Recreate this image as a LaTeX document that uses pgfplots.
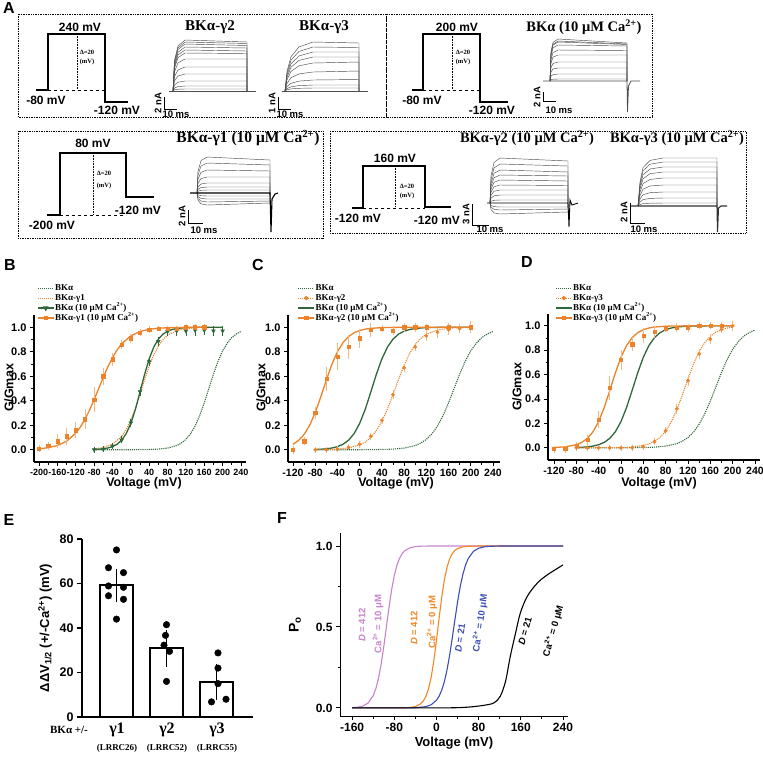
\documentclass[border=0pt]{standalone}
\usepackage{fontspec}
\setmainfont{Liberation Sans}
\newfontfamily\serif{Liberation Serif}
\usepackage{pgfplots}
\pgfplotsset{compat=1.18}
\newcommand{\fs}[1]{\fontsize{#1}{#1}\selectfont}
\definecolor{org}{RGB}{236,131,43}
\definecolor{lorg}{RGB}{244,185,125}
\definecolor{grn}{RGB}{46,104,58}
\definecolor{pnk}{RGB}{200,130,200}
\definecolor{forg}{RGB}{240,135,35}
\definecolor{fblu}{RGB}{60,78,180}
\tikzset{tr/.style={line width=0.45pt, black!70}, proto/.style={line width=1.3pt, black}, sb/.style={line width=1pt, black}}
\pgfplotsset{
 gv/.style={scale only axis, axis x line*=bottom, axis y line*=left,
  axis line style={-, line width=1.2pt}, tick style={black, line width=0.9pt},
  major tick length=4pt, minor tick length=2.5pt, tick align=outside,
  minor x tick num=1, minor y tick num=1, ymin=-0.1, ymax=1.1, ytick={0,0.2,0.4,0.6,0.8,1.0},
  yticklabel style={font=\bfseries\fs{11}, /pgf/number format/fixed, /pgf/number format/precision=1, /pgf/number format/fixed zerofill},
  xticklabel style={font=\bfseries\fs{10.5}},
  /pgf/number format/assume math mode=true,
  clip=false, height=147pt, width=212pt,
  legend style={draw=none, fill=none, font=\serif\bfseries\fs{9}, anchor=north west, inner sep=0pt, row sep=0.3pt,
    nodes={inner sep=0.8pt, text height=6.5pt, text depth=1.6pt}},
  legend cell align=left,
  legend image code/.code={\draw[mark repeat=2,mark phase=2,#1] plot coordinates {(0pt,0pt) (8pt,0pt) (16pt,0pt)};}},
 ebo/.style={error bars/.cd, y dir=both, y explicit, error bar style={lorg, line width=0.7pt, solid}, error mark options={lorg, line width=0.7pt, mark size=2.3pt, solid}},
 ebg/.style={error bars/.cd, y dir=both, y explicit, error bar style={grn, line width=0.7pt, solid}, error mark options={grn, line width=0.7pt, mark size=2.3pt, solid}},
}
\begin{document}
\begin{tikzpicture}[x=1pt,y=-1pt]
\path[use as bounding box] (0,0) rectangle (763,756);
% ---------------- Panel A ----------------
\draw[densely dotted, line width=0.7pt] (18,14) rectangle (386,117);
\draw[densely dotted, line width=0.7pt] (386,14) rectangle (652,117);
\draw[densely dotted, line width=0.7pt] (18,131) rectangle (323,238);
\draw[densely dotted, line width=0.7pt] (330,131) rectangle (746,233);
\begin{axis}[at={(0pt,0pt)}, anchor=north west, scale only axis, width=763pt, height=756pt,
  xmin=0, xmax=763, ymin=0, ymax=756, y dir=reverse, hide axis, clip=false]
% protocols
\addplot[proto] coordinates {(36,90) (48,90) (48,34) (105,34) (105,102) (128,102)};
\addplot[line width=0.6pt, dashed] coordinates {(48,90) (105,90)};
\addplot[line width=0.6pt, densely dotted] coordinates {(77,34) (77,90)};
\addplot[proto] coordinates {(412,90) (423,90) (423,34) (480,34) (480,102) (508,102)};
\addplot[line width=0.6pt, dashed] coordinates {(423,90) (480,90)};
\addplot[line width=0.6pt, densely dotted] coordinates {(452,34) (452,90)};
\addplot[proto] coordinates {(47,215) (60,215) (60,153) (126,153) (126,197) (154,197)};
\addplot[line width=0.6pt, dashed] coordinates {(60,215) (126,215)};
\addplot[line width=0.6pt, densely dotted] coordinates {(93,153) (93,215)};
\addplot[proto] coordinates {(352,208) (363,208) (363,166) (425,166) (425,207) (451,207)};
\addplot[line width=0.6pt, dashed] coordinates {(363,208) (425,208)};
\addplot[line width=0.6pt, densely dotted] coordinates {(395,166) (395,208)};
% traces BKa-g2
\addplot[tr] coordinates {(173,91) (174.5,60.4) (178,46.1) (185,40) (247,42) (247,91)};
\addplot[tr] coordinates {(173,91) (174.5,61.6) (178,47.9) (185,42) (247,43.5) (247,91)};
\addplot[tr] coordinates {(173,91) (174.5,62.8) (178,49.6) (185,44) (247,45.5) (247,91)};
\addplot[tr] coordinates {(173,91) (174.5,64.6) (178,52.3) (185,47) (247,48) (247,91)};
\addplot[tr] coordinates {(173,91) (174.5,66.4) (178,54.9) (185,50) (247,51) (247,91)};
\addplot[tr] coordinates {(173,91) (174.5,68.2) (178,57.6) (185,53) (247,53.5) (247,91)};
\addplot[tr] coordinates {(173,91) (174.5,71.8) (178,62.8) (185,59) (247,59) (247,91)};
\addplot[tr] coordinates {(173,91) (174.5,76.6) (178,69.9) (185,67) (247,67) (247,91)};
\addplot[tr] coordinates {(173,91) (174.5,80.8) (178,76) (185,74) (247,74) (247,91)};
\addplot[tr] coordinates {(173,91) (174.5,85) (178,82.2) (185,81) (247,81) (247,91)};
\addplot[tr] coordinates {(173,91) (174.5,88) (178,86.6) (185,86) (247,86) (247,91)};
\addplot[tr] coordinates {(173,91) (174.5,89.8) (178,89.2) (185,89) (247,89) (247,91)};
\addplot[tr] coordinates {(169,91) (256,91)};
% traces BKa-g3
\addplot[tr] coordinates {(285,91) (287,71.4) (291,56.7) (299,46.9) (313,42) (359,43) (359,91)};
\addplot[tr] coordinates {(285,91) (287,73.4) (291,60.2) (299,51.4) (313,47) (359,47.5) (359,91)};
\addplot[tr] coordinates {(285,91) (287,75.4) (291,63.7) (299,55.9) (313,52) (359,52) (359,91)};
\addplot[tr] coordinates {(285,91) (287,77.4) (291,67.2) (299,60.4) (313,57) (359,57) (359,91)};
\addplot[tr] coordinates {(285,91) (287,79.8) (291,71.4) (299,65.8) (313,63) (359,62) (359,91)};
\addplot[tr] coordinates {(285,91) (287,83.4) (291,77.7) (299,73.9) (313,72) (359,71) (359,91)};
\addplot[tr] coordinates {(285,91) (287,86.6) (291,83.3) (299,81.1) (313,80) (359,79.5) (359,91)};
\addplot[tr] coordinates {(285,91) (287,88.6) (291,86.8) (299,85.6) (313,85) (359,85) (359,91)};
\addplot[tr] coordinates {(285,91) (287,89.8) (291,88.9) (299,88.3) (313,88) (359,88) (359,91)};
\addplot[tr] coordinates {(282,91) (368,91)};
% traces BKa 10 Ca
\addplot[tr] coordinates {(550,81) (551,51.6) (553,42.4) (558,39) (627,43) (627,81)};
\addplot[tr] coordinates {(550,81) (551,53) (553,44.2) (558,41) (627,44) (627,81)};
\addplot[tr] coordinates {(550,81) (551,53.7) (553,45.1) (558,42) (627,44.5) (627,81)};
\addplot[tr] coordinates {(550,81) (551,55.8) (553,47.9) (558,45) (627,46) (627,81)};
\addplot[tr] coordinates {(550,81) (551,59.3) (553,52.5) (558,50) (627,50.5) (627,81)};
\addplot[tr] coordinates {(550,81) (551,62.8) (553,57.1) (558,55) (627,55) (627,81)};
\addplot[tr] coordinates {(550,81) (551,67.7) (553,63.5) (558,62) (627,62) (627,81)};
\addplot[tr] coordinates {(550,81) (551,71.9) (553,69) (558,68) (627,68) (627,81)};
\addplot[tr] coordinates {(550,81) (551,76.1) (553,74.6) (558,74) (627,74) (627,81)};
\addplot[tr] coordinates {(550,81) (551,79.6) (553,79.2) (558,79) (627,79) (627,81)};
\addplot[tr, line width=0.8pt] coordinates {(543,81) (627,81) (627.5,112) (628.5,86) (631,81) (640,81)};
% traces BKa-g1 10 Ca
\addplot[tr] coordinates {(197,193) (198,171.4) (201,160.6) (207,157) (270,160) (270,193)};
\addplot[tr] coordinates {(197,193) (198,175) (201,166) (207,163) (270,165) (270,193)};
\addplot[tr] coordinates {(197,193) (198,179.2) (201,172.3) (207,170) (270,171) (270,193)};
\addplot[tr] coordinates {(197,193) (198,183.4) (201,178.6) (207,177) (270,177) (270,193)};
\addplot[tr] coordinates {(197,193) (198,187) (201,184) (207,183) (270,183) (270,193)};
\addplot[tr] coordinates {(197,193) (198,189.4) (201,187.6) (207,187) (270,187) (270,193)};
\addplot[tr] coordinates {(197,193) (198,191.2) (201,190.3) (207,190) (270,190) (270,193)};
\addplot[tr] coordinates {(197,193) (198,194.8) (201,195.7) (207,196) (270,196) (270,193)};
\addplot[tr] coordinates {(197,193) (198,196.6) (201,198.4) (207,199) (270,199) (270,193)};
\addplot[tr] coordinates {(197,193) (198,198.4) (201,201.1) (207,202) (270,201) (270,193)};
\addplot[tr] coordinates {(197,193) (198,200.2) (201,203.8) (207,205) (270,203) (270,193)};
\addplot[tr, line width=1.1pt, black] coordinates {(190,193) (270,193) (271,232) (272,199) (275,194) (278,193)};
% traces BKa-g2 10 Ca
\addplot[tr] coordinates {(490,203) (491,176) (494,162.5) (500,158) (568,161) (568,203)};
\addplot[tr] coordinates {(490,203) (491,179.6) (494,167.9) (500,164) (568,166) (568,203)};
\addplot[tr] coordinates {(490,203) (491,183.2) (494,173.3) (500,170) (568,172) (568,203)};
\addplot[tr] coordinates {(490,203) (491,186.2) (494,177.8) (500,175) (568,176) (568,203)};
\addplot[tr] coordinates {(490,203) (491,189.2) (494,182.3) (500,180) (568,181) (568,203)};
\addplot[tr] coordinates {(490,203) (491,192.2) (494,186.8) (500,185) (568,185.5) (568,203)};
\addplot[tr] coordinates {(490,203) (491,195.2) (494,191.3) (500,190) (568,190) (568,203)};
\addplot[tr] coordinates {(490,203) (491,198.2) (494,195.8) (500,195) (568,195) (568,203)};
\addplot[tr] coordinates {(490,203) (491,201.2) (494,200.3) (500,200) (568,200) (568,203)};
\addplot[tr] coordinates {(490,203) (491,205.4) (494,206.6) (500,207) (568,207) (568,203)};
\addplot[tr] coordinates {(490,203) (491,207.2) (494,209.3) (500,210) (568,209) (568,203)};
\addplot[tr] coordinates {(490,203) (491,209.6) (494,212.9) (500,214) (568,212) (568,203)};
\addplot[tr, line width=0.9pt, black] coordinates {(487,203) (568,203) (569,227) (570,200) (572,205) (578,203)};
% traces BKa-g3 10 Ca
\addplot[tr] coordinates {(638,206) (640,182) (643,167.6) (650,160.4) (663,158) (717,158) (717,206)};
\addplot[tr] coordinates {(638,206) (640,184) (643,170.8) (650,164.2) (663,162) (717,162) (717,206)};
\addplot[tr] coordinates {(638,206) (640,186.5) (643,174.8) (650,169) (663,167) (717,167) (717,206)};
\addplot[tr] coordinates {(638,206) (640,189) (643,178.8) (650,173.7) (663,172) (717,172) (717,206)};
\addplot[tr] coordinates {(638,206) (640,192) (643,183.6) (650,179.4) (663,178) (717,178) (717,206)};
\addplot[tr] coordinates {(638,206) (640,195.5) (643,189.2) (650,186) (663,185) (717,185) (717,206)};
\addplot[tr] coordinates {(638,206) (640,199) (643,194.8) (650,192.7) (663,192) (717,192) (717,206)};
\addplot[tr] coordinates {(638,206) (640,202) (643,199.6) (650,198.4) (663,198) (717,198) (717,206)};
\addplot[tr] coordinates {(638,206) (640,204.5) (643,203.6) (650,203.2) (663,203) (717,203) (717,206)};
\addplot[tr, line width=1.1pt, black!80] coordinates {(630,206) (717,206) (717.5,232) (718.5,208) (721,206) (727,206)};
% scale bars
\addplot[sb] coordinates {(164,97) (164,109) (177,109)};
\addplot[sb] coordinates {(278,97) (278,109) (291,109)};
\addplot[sb] coordinates {(543,92) (543,101) (556,101)};
\addplot[sb] coordinates {(188,210) (188,223) (203,223)};
\addplot[sb] coordinates {(472,204) (472,225) (489,225)};
\addplot[sb] coordinates {(630,203) (630,223) (645,223)};
\end{axis}
% Panel A texts
\node[font=\bfseries\fs{16}] at (9,8) {A};
\node[font=\bfseries\fs{12}] at (80,27) {240 mV};
\node[font=\bfseries\fs{12}] at (46,100) {-80 mV};
\node[font=\bfseries\fs{12}] at (117,110) {-120 mV};
\node[font=\serif\bfseries\fs{6.5}] at (87,52) {Δ=20};
\node[font=\serif\bfseries\fs{6.5}] at (87,62) {(mV)};
\node[font=\serif\bfseries\fs{15}] at (210,27) {BKα-γ2};
\node[font=\serif\bfseries\fs{15}] at (324,27) {BKα-γ3};
\node[font=\bfseries\fs{12}] at (457,27) {200 mV};
\node[font=\bfseries\fs{12}] at (422,100) {-80 mV};
\node[font=\bfseries\fs{12}] at (492,110) {-120 mV};
\node[font=\serif\bfseries\fs{6.5}] at (463,52) {Δ=20};
\node[font=\serif\bfseries\fs{6.5}] at (463,62) {(mV)};
\node[font=\serif\bfseries\fs{14.5}] at (584,27) {BKα (10 μM Ca\textsuperscript{2+})};
\node[font=\bfseries\fs{12}] at (93,143) {80 mV};
\node[font=\bfseries\fs{12}] at (138,210) {-120 mV};
\node[font=\bfseries\fs{12}] at (52,225) {-200 mV};
\node[font=\serif\bfseries\fs{6.5}] at (104,173) {Δ=20};
\node[font=\serif\bfseries\fs{6.5}] at (104,186) {(mV)};
\node[font=\serif\bfseries\fs{15.5}] at (248,138) {BKα-γ1 (10 μM Ca\textsuperscript{2+})};
\node[font=\bfseries\fs{12}] at (395,158) {160 mV};
\node[font=\bfseries\fs{12}] at (358,218) {-120 mV};
\node[font=\bfseries\fs{12}] at (437,220) {-120 mV};
\node[font=\serif\bfseries\fs{6.5}] at (407,186) {Δ=20};
\node[font=\serif\bfseries\fs{6.5}] at (407,196) {(mV)};
\node[font=\serif\bfseries\fs{14.5}] at (527,138) {BKα-γ2 (10 μM Ca\textsuperscript{2+})};
\node[font=\serif\bfseries\fs{14.5}] at (677,138) {BKα-γ3 (10 μM Ca\textsuperscript{2+})};
\node[font=\bfseries\fs{9.5}, rotate=90] at (158,103) {2 nA};
\node[font=\bfseries\fs{9.5}] at (176,114) {10 ms};
\node[font=\bfseries\fs{9.5}, rotate=90] at (272,103) {1 nA};
\node[font=\bfseries\fs{9.5}] at (290,114) {10 ms};
\node[font=\bfseries\fs{9.5}, rotate=90] at (537,97) {2 nA};
\node[font=\bfseries\fs{9.5}] at (559,110) {10 ms};
\node[font=\bfseries\fs{9.5}, rotate=90] at (182,216) {2 nA};
\node[font=\bfseries\fs{9.5}] at (204,230) {10 ms};
\node[font=\bfseries\fs{9.5}, rotate=90] at (466,214) {3 nA};
\node[font=\bfseries\fs{9.5}] at (490,229) {10 ms};
\node[font=\bfseries\fs{9.5}, rotate=90] at (624,212) {2 nA};
\node[font=\bfseries\fs{9.5}] at (644,229) {10 ms};
% ---------------- Panel B ----------------
\node[font=\bfseries\fs{16}] at (10,265) {B};
\begin{axis}[gv, at={(34pt,-462pt)}, anchor=south west, xmin=-211, xmax=251, xtick={-200,-160,...,240},
  xticklabel style={font=\bfseries\fs{9}}, legend style={at={(0.014,1.218)}}]
\addlegendimage{grn, densely dotted, line width=1pt}\addlegendentry{BKα}
\addlegendimage{org, densely dotted, line width=1pt}\addlegendentry{BKα-γ1}
\addlegendimage{grn, line width=1.2pt, mark=triangle*, mark options={rotate=180}, mark size=2.2pt}\addlegendentry{BKα (10 μM Ca\textsuperscript{2+})}
\addlegendimage{org, line width=1.2pt, mark=square*, mark size=1.6pt}\addlegendentry{BKα-γ1 (10 μM Ca\textsuperscript{2+})}
\addplot[forget plot, grn, densely dotted, line width=1.1pt] coordinates {(-80,0) (0,0.0003) (40,0.002) (60,0.0053) (80,0.0136) (100,0.0344) (110,0.0543) (120,0.0846) (130,0.1295) (140,0.193) (150,0.278) (160,0.383) (170,0.5) (180,0.617) (190,0.722) (200,0.807) (210,0.870) (220,0.916) (230,0.9455) (240,0.9656)};
\addplot[forget plot, org, densely dotted, line width=1.1pt] coordinates {(-80,0.007) (-60,0.018) (-40,0.0453) (-20,0.1095) (-10,0.165) (0,0.242) (10,0.339) (20,0.4525) (30,0.571) (40,0.682) (50,0.775) (60,0.847) (70,0.898) (80,0.935) (100,0.974) (120,0.9898) (140,0.996) (160,0.9985)};
\addplot[forget plot, grn, line width=1.3pt] coordinates {(-80,0.0025) (-70,0.0044) (-60,0.008) (-50,0.0143) (-40,0.0254) (-30,0.0448) (-20,0.078) (-10,0.132) (0,0.215) (10,0.330) (20,0.471) (30,0.615) (40,0.742) (50,0.838) (60,0.903) (70,0.944) (80,0.968) (90,0.982) (100,0.990) (110,0.994) (120,0.997) (140,0.999) (160,1.0) (200,1.0)};
\addplot[forget plot, grn, only marks, mark=triangle*, mark options={rotate=180}, mark size=2.2pt, ebg] coordinates {
 (-80,0.0) +- (0,0.005) (-60,0.005) +- (0,0.005) (-40,0.03) +- (0,0.006) (-20,0.08) +- (0,0.01) (0,0.22) +- (0,0.015) (20,0.475) +- (0,0.015) (40,0.72) +- (0,0.02) (60,0.885) +- (0,0.02) (80,0.965) +- (0,0.015) (100,0.97) +- (0,0.025) (120,0.97) +- (0,0.025) (140,0.975) +- (0,0.025) (160,0.975) +- (0,0.02) (180,0.97) +- (0,0.02) (200,0.97) +- (0,0.02)};
\addplot[forget plot, org, line width=1.3pt] coordinates {(-200,0.008) (-180,0.0167) (-160,0.0344) (-140,0.0696) (-120,0.1357) (-110,0.185) (-100,0.2476) (-90,0.323) (-80,0.4085) (-70,0.5) (-60,0.5915) (-50,0.677) (-40,0.7524) (-30,0.815) (-20,0.8643) (0,0.9304) (20,0.9655) (40,0.9833) (60,0.992) (80,0.9962) (100,0.9982) (120,0.9991) (160,0.9998)};
\addplot[forget plot, org, only marks, mark=square*, mark size=1.6pt, ebo] coordinates {
 (-200,0.01) +- (0,0.01) (-180,0.03) +- (0,0.015) (-160,0.07) +- (0,0.04) (-140,0.11) +- (0,0.05) (-120,0.16) +- (0,0.045) (-100,0.25) +- (0,0.06) (-80,0.41) +- (0,0.085) (-60,0.60) +- (0,0.05) (-40,0.74) +- (0,0.035) (-20,0.86) +- (0,0.02) (0,0.91) +- (0,0.02) (20,0.955) +- (0,0.01) (40,0.98) +- (0,0.01) (60,0.99) +- (0,0.005) (80,0.99) +- (0,0.005) (100,0.99) +- (0,0.005) (120,1.0) +- (0,0.005) (140,1.0) +- (0,0.005) (160,1.0) +- (0,0.005)};
\end{axis}
\node[font=\bfseries\fs{12.5}, rotate=90] at (9,388) {G/Gmax};
\node[font=\bfseries\fs{12.5}] at (144,483) {Voltage (mV)};
% ---------------- Panel C ----------------
\node[font=\bfseries\fs{16}] at (258,265) {C};
\begin{axis}[gv, at={(288pt,-462pt)}, anchor=south west, xmin=-129, xmax=252.6, xtick={-120,-80,...,240},
  legend style={at={(0.045,1.218)}}]
\addlegendimage{grn, densely dotted, line width=1pt}\addlegendentry{BKα}
\addlegendimage{org, densely dotted, line width=1pt, mark=*, mark size=1.7pt, mark options={solid}}\addlegendentry{BKα-γ2}
\addlegendimage{grn, line width=1.2pt}\addlegendentry{BKα (10 μM Ca\textsuperscript{2+})}
\addlegendimage{org, line width=1.2pt, mark=square*, mark size=1.6pt}\addlegendentry{BKα-γ2 (10 μM Ca\textsuperscript{2+})}
\addplot[forget plot, grn, densely dotted, line width=1.1pt] coordinates {(-80,0) (0,0.0003) (40,0.002) (60,0.0053) (80,0.0136) (100,0.0344) (110,0.0543) (120,0.0846) (130,0.1295) (140,0.193) (150,0.278) (160,0.383) (170,0.5) (180,0.617) (190,0.722) (200,0.807) (210,0.870) (220,0.916) (230,0.9455) (240,0.9656)};
\addplot[forget plot, grn, line width=1.3pt] coordinates {(-80,0.0025) (-70,0.0044) (-60,0.008) (-50,0.0143) (-40,0.0254) (-30,0.0448) (-20,0.078) (-10,0.132) (0,0.215) (10,0.330) (20,0.471) (30,0.615) (40,0.742) (50,0.838) (60,0.903) (70,0.944) (80,0.968) (90,0.982) (100,0.990) (110,0.994) (120,0.997) (140,0.999) (160,1.0) (200,1.0)};
\addplot[forget plot, org, densely dotted, line width=1.1pt] coordinates {(-80,0.0008) (-60,0.002) (-40,0.0055) (-20,0.0148) (0,0.0392) (10,0.063) (20,0.0998) (30,0.1545) (40,0.2315) (50,0.332) (60,0.450) (70,0.574) (80,0.690) (90,0.786) (100,0.858) (110,0.909) (120,0.9427) (140,0.978) (160,0.9918) (180,0.997) (200,0.9989)};
\addplot[forget plot, org, only marks, mark=*, mark size=1.7pt, ebo] coordinates {
 (-80,0.0) +- (0,0.004) (-60,0.0) +- (0,0.004) (-40,0.005) +- (0,0.005) (-20,0.02) +- (0,0.006) (0,0.045) +- (0,0.008) (20,0.11) +- (0,0.01) (40,0.24) +- (0,0.012) (60,0.45) +- (0,0.015) (80,0.67) +- (0,0.015) (100,0.84) +- (0,0.015) (120,0.93) +- (0,0.02) (140,0.96) +- (0,0.03) (160,0.98) +- (0,0.025) (180,0.99) +- (0,0.02) (200,1.0) +- (0,0.03)};
\addplot[forget plot, org, line width=1.3pt] coordinates {(-120,0.045) (-110,0.0759) (-100,0.125) (-90,0.1996) (-80,0.303) (-70,0.431) (-60,0.569) (-50,0.697) (-40,0.8004) (-30,0.875) (-20,0.924) (-10,0.955) (0,0.9737) (10,0.9847) (20,0.9912) (40,0.9971) (60,0.999) (100,1.0) (200,1.0)};
\addplot[forget plot, org, only marks, mark=square*, mark size=1.6pt, ebo] coordinates {
 (-120,0.0) +- (0,0.012) (-100,0.07) +- (0,0.015) (-80,0.30) +- (0,0.03) (-60,0.58) +- (0,0.08) (-40,0.76) +- (0,0.09) (-20,0.84) +- (0,0.08) (0,0.91) +- (0,0.06) (20,0.98) +- (0,0.04) (40,0.99) +- (0,0.01) (60,0.97) +- (0,0.015) (80,1.0) +- (0,0.02) (100,1.0) +- (0,0.02) (120,1.0) +- (0,0.01) (160,1.0) +- (0,0.02) (200,1.0) +- (0,0.02)};
\end{axis}
\node[font=\bfseries\fs{12.5}, rotate=90] at (261,388) {G/Gmax};
\node[font=\bfseries\fs{12.5}] at (396,483) {Voltage (mV)};
% ---------------- Panel D ----------------
\node[font=\bfseries\fs{16}] at (527,262) {D};
\begin{axis}[gv, at={(548pt,-460pt)}, anchor=south west, height=146.4pt, xmin=-130.7, xmax=249, xtick={-120,-80,...,240},
  legend style={at={(0.033,1.209)}}]
\addlegendimage{grn, densely dotted, line width=1pt}\addlegendentry{BKα}
\addlegendimage{org, densely dotted, line width=1pt, mark=*, mark size=1.7pt, mark options={solid}}\addlegendentry{BKα-γ3}
\addlegendimage{grn, line width=1.2pt}\addlegendentry{BKα (10 μM Ca\textsuperscript{2+})}
\addlegendimage{org, line width=1.2pt, mark=square*, mark size=1.6pt}\addlegendentry{BKα-γ3 (10 μM Ca\textsuperscript{2+})}
\addplot[forget plot, grn, densely dotted, line width=1.1pt] coordinates {(-80,0) (0,0.0003) (40,0.002) (60,0.0053) (80,0.0136) (100,0.0344) (110,0.0543) (120,0.0846) (130,0.1295) (140,0.193) (150,0.278) (160,0.383) (170,0.5) (180,0.617) (190,0.722) (200,0.807) (210,0.870) (220,0.916) (230,0.9455) (240,0.9656)};
\addplot[forget plot, grn, line width=1.3pt] coordinates {(-80,0.0025) (-70,0.0044) (-60,0.008) (-50,0.0143) (-40,0.0254) (-30,0.0448) (-20,0.078) (-10,0.132) (0,0.215) (10,0.330) (20,0.471) (30,0.615) (40,0.742) (50,0.838) (60,0.903) (70,0.944) (80,0.968) (90,0.982) (100,0.990) (110,0.994) (120,0.997) (140,0.999) (160,1.0) (200,1.0)};
\addplot[forget plot, org, densely dotted, line width=1.1pt] coordinates {(-80,0) (0,0.0024) (20,0.0066) (40,0.0189) (50,0.0316) (60,0.0524) (70,0.0856) (80,0.137) (90,0.2115) (100,0.3124) (110,0.4346) (120,0.5654) (130,0.6876) (140,0.7885) (150,0.863) (160,0.9144) (170,0.9476) (180,0.9684) (190,0.981) (200,0.9887)};
\addplot[forget plot, org, only marks, mark=*, mark size=1.7pt, ebo] coordinates {
 (-80,0.0) +- (0,0.004) (-60,0.0) +- (0,0.004) (-40,0.0) +- (0,0.004) (-20,0.0) +- (0,0.004) (0,0.0) +- (0,0.004) (20,0.0) +- (0,0.004) (40,0.01) +- (0,0.006) (60,0.05) +- (0,0.01) (80,0.14) +- (0,0.012) (100,0.32) +- (0,0.02) (120,0.55) +- (0,0.025) (140,0.77) +- (0,0.025) (160,0.89) +- (0,0.02) (180,0.97) +- (0,0.01) (200,1.0) +- (0,0.02)};
\addplot[forget plot, org, line width=1.3pt] coordinates {(-120,0.0025) (-100,0.008) (-80,0.0254) (-70,0.0448) (-60,0.078) (-50,0.132) (-40,0.215) (-30,0.330) (-20,0.471) (-10,0.615) (0,0.742) (10,0.838) (20,0.903) (30,0.944) (40,0.968) (50,0.982) (60,0.990) (80,0.9969) (100,0.999) (140,0.9999) (200,1.0)};
\addplot[forget plot, org, only marks, mark=square*, mark size=1.6pt, ebo] coordinates {
 (-120,-0.01) +- (0,0.01) (-100,-0.01) +- (0,0.01) (-80,0.015) +- (0,0.01) (-60,0.065) +- (0,0.02) (-40,0.23) +- (0,0.05) (-20,0.49) +- (0,0.08) (0,0.72) +- (0,0.06) (20,0.85) +- (0,0.04) (40,0.92) +- (0,0.04) (60,0.95) +- (0,0.03) (80,0.98) +- (0,0.01) (100,0.985) +- (0,0.02) (120,0.985) +- (0,0.015) (140,1.0) +- (0,0.01) (160,1.0) +- (0,0.01) (180,1.0) +- (0,0.01)};
\end{axis}
\node[font=\bfseries\fs{12.5}, rotate=90] at (517,387) {G/Gmax};
\node[font=\bfseries\fs{12.5}] at (659,483) {Voltage (mV)};
% ---------------- Panel E ----------------
\node[font=\bfseries\fs{16}] at (9,520) {E};
\begin{axis}[at={(82pt,-717pt)}, anchor=south west, scale only axis, width=171pt, height=178pt,
  xmin=-0.69, xmax=2.73, ymin=0, ymax=80, axis x line*=bottom, axis y line*=left,
  axis line style={-, line width=1.5pt}, xtick=\empty, ytick={0,20,40,60,80},
  tick style={line width=1.5pt, black}, major tick length=5pt, tick align=outside,
  tick label style={font=\bfseries\fs{12.5}}, /pgf/number format/assume math mode=true, clip=false]
\addplot[ybar, bar width=33pt, fill=white, draw=black, line width=2pt,
  error bars/.cd, y dir=both, y explicit, error bar style={line width=1.5pt, black},
  error mark options={line width=1.5pt, mark size=8.5pt, black}]
  coordinates {(0,59.2) +- (0,3.5) (1,30.8) +- (0,4.4) (2,15.8) +- (0,4.3)};
\addplot[only marks, mark=*, mark size=3.3pt, black] coordinates {(0,75.1) (-0.16,67.1) (0.14,64.9) (-0.16,58.9) (0.14,58.3) (-0.16,54.5) (0.14,52.9) (0,44.0) (1.0,41.5) (0.98,36.7) (0.95,32.3) (1.06,29.5) (1.0,16.0) (2.03,28.8) (2.03,22.0) (2.03,15.0) (1.9,6.8) (2.19,8.0)};
\end{axis}
\node[font=\bfseries\fs{13}, rotate=90] at (45,628) {ΔΔV\textsubscript{1/2} (+/-Ca\textsuperscript{2+}) (mV)};
\node[font=\serif\bfseries\fs{11}] at (69,730) {BKα +/-};
\node[font=\serif\bfseries\fs{16}] at (117,730) {γ1};
\node[font=\serif\bfseries\fs{16}] at (167,730) {γ2};
\node[font=\serif\bfseries\fs{16}] at (217,730) {γ3};
\node[font=\serif\bfseries\fs{9}] at (117,748) {(LRRC26)};
\node[font=\serif\bfseries\fs{9}] at (167,748) {(LRRC52)};
\node[font=\serif\bfseries\fs{9}] at (217,748) {(LRRC55)};
% ---------------- Panel F ----------------
\node[font=\bfseries\fs{16}] at (282,518) {F};
\begin{axis}[at={(340pt,-716pt)}, anchor=south west, scale only axis, width=228pt, height=183pt,
  xmin=-183, xmax=249.5, ymin=-0.05, ymax=1.08, axis x line*=bottom, axis y line*=left,
  axis line style={-, line width=1pt}, tick style={black, line width=0.9pt},
  xtick={-160,-80,...,240}, ytick={0,0.5,1}, minor x tick num=1, minor y tick num=1,
  major tick length=4pt, minor tick length=2.5pt, tick align=outside,
  yticklabel style={/pgf/number format/fixed, /pgf/number format/precision=1, /pgf/number format/fixed zerofill},
  tick label style={font=\bfseries\fs{12}}, /pgf/number format/assume math mode=true, clip=false]
\addplot[pnk, line width=1.1pt] coordinates {(-160,0.0015) (-150,0.0041) (-140,0.011) (-130,0.0293) (-120,0.0759) (-115,0.119) (-110,0.1824) (-105,0.269) (-100,0.3775) (-95,0.5) (-90,0.6225) (-85,0.731) (-80,0.8176) (-75,0.881) (-70,0.924) (-65,0.953) (-60,0.9707) (-50,0.989) (-40,0.9959) (-30,0.9985) (-20,0.9994) (0,1.0) (240,1.0)};
\addplot[forg, line width=1.1pt] coordinates {(-160,0) (-80,0.0001) (-60,0.0009) (-50,0.0028) (-40,0.0083) (-30,0.0249) (-25,0.043) (-20,0.072) (-15,0.119) (-10,0.191) (-5,0.291) (0,0.417) (5,0.555) (10,0.685) (15,0.791) (20,0.869) (25,0.920) (30,0.953) (35,0.972) (40,0.984) (50,0.9946) (60,0.9982) (80,0.9998) (240,1.0)};
\addplot[fblu, line width=1.1pt] coordinates {(-160,0) (-60,0.0002) (-40,0.0013) (-20,0.008) (-10,0.0197) (0,0.0474) (5,0.0727) (10,0.110) (15,0.163) (20,0.235) (25,0.326) (30,0.432) (35,0.545) (40,0.654) (45,0.749) (50,0.824) (55,0.881) (60,0.921) (70,0.9666) (80,0.986) (90,0.9944) (100,0.9977) (120,0.9996) (240,1.0)};
\addplot[black, line width=1.1pt, smooth] coordinates {(-160,0) (0,0.0003) (40,0.0015) (64,0.006) (90,0.016) (109,0.031) (121,0.072) (131,0.164) (140,0.318) (150,0.462) (159,0.585) (172,0.688) (191,0.770) (210,0.821) (240,0.883)};
\end{axis}
\node[font=\bfseries\fs{14}, rotate=90] at (295,625) {P\textsubscript{o}};
\node[font=\bfseries\fs{13}] at (454,743) {Voltage (mV)};
\node[font=\bfseries\fs{9.5}, rotate=90, pnk] at (362,625) {\textit{D} = 412};
\node[font=\bfseries\fs{9.5}, rotate=90, pnk] at (378,624) {Ca\textsuperscript{2+} = 10 μM};
\node[font=\bfseries\fs{9.5}, rotate=90, forg] at (414,628) {\textit{D} = 412};
\node[font=\bfseries\fs{9.5}, rotate=90, forg] at (432,622) {Ca\textsuperscript{2+} = 0 μM};
\node[font=\bfseries\fs{9.5}, rotate=82, fblu] at (460,638) {\textit{D} = 21};
\node[font=\bfseries\fs{9.5}, rotate=82, fblu] at (480,623) {Ca\textsuperscript{2+} = 10 μM};
\node[font=\bfseries\fs{9.5}, rotate=74] at (525,631) {\textit{D} = 21};
\node[font=\bfseries\fs{9.5}, rotate=74] at (553,631) {Ca\textsuperscript{2+} = 0 μM};
\end{tikzpicture}
\end{document}
